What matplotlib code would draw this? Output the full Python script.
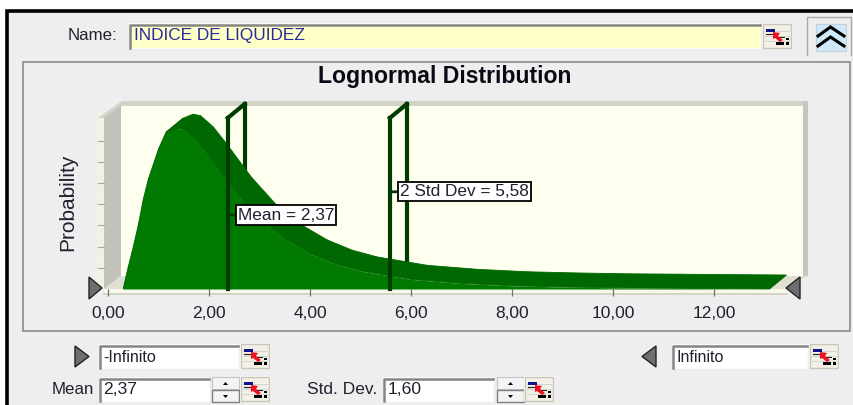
import matplotlib
matplotlib.use("Agg")
import matplotlib.pyplot as plt
from matplotlib.patches import Rectangle, Polygon
from matplotlib.transforms import Affine2D

plt.rcParams['font.family'] = ['Liberation Sans', 'DejaVu Sans']

# ---- data ----
x_values = [0.30, 0.40, 0.50, 0.60, 0.70, 0.80, 1.00, 1.15, 1.35, 1.50, 1.75, 2.00, 2.50,
            3.00, 3.50, 4.00, 4.50, 5.00, 6.00, 7.00, 8.00, 9.00, 10.00, 11.00, 12.00, 13.10]
probability = [0.000, 0.055, 0.105, 0.160, 0.225, 0.275, 0.350, 0.392, 0.402, 0.398, 0.370,
               0.330, 0.245, 0.175, 0.125, 0.088, 0.062, 0.045, 0.024, 0.014, 0.008, 0.005,
               0.003, 0.002, 0.001, 0.000]
x_ticks = [0, 2, 4, 6, 8, 10, 12]
x_tick_labels = ['0,00', '2,00', '4,00', '6,00', '8,00', '10,00', '12,00']
marker_x = [2.37, 5.58]
marker_y = [0.185, 0.243]
marker_labels = ['Mean = 2,37', '2 Std Dev = 5,58']
line_top = 0.4275
name_text = 'INDICE DE LIQUIDEZ'
title_text = 'Lognormal Distribution'

W, H = 854, 405
fig = plt.figure(figsize=(W / 100, H / 100), dpi=100, facecolor='white')

# ---- window furniture in pixel coordinates ----
ui = fig.add_axes([0, 0, 1, 1], zorder=1)
ui.set_xlim(0, W)
ui.set_ylim(H, 0)
ui.axis('off')


def rect(x0, y0, x1, y1, fc, ec='none', lw=0, z=1):
    ui.add_patch(Rectangle((x0, y0), x1 - x0, y1 - y0, fc=fc, ec=ec, lw=lw, zorder=z))


def poly(pts, fc, ec='none', lw=0, z=1):
    ui.add_patch(Polygon(pts, closed=True, fc=fc, ec=ec, lw=lw, zorder=z))


def field(x0, y0, x1, y1, fc='white'):
    rect(x0 - 1, y0 - 1, x1 + 1, y1 + 1, '#fafafa', z=2)
    rect(x0, y0, x1, y1, fc, z=2)
    ui.plot([x0 + .5, x0 + .5, x1], [y1, y0 + .5, y0 + .5], color='#858585', lw=1.8, zorder=3)


def icon(x0, y0):
    rect(x0 - 1, y0 - 1, x0 + 30, y0 + 25, '#fafafa', z=2)
    rect(x0, y0, x0 + 28, y0 + 24, '#f3f1e6', ec='#c8c6b8', lw=1, z=3)
    for k in (7, 12, 17):
        ui.plot([x0 + 2, x0 + 26], [y0 + k, y0 + k], color='#d4d4d4', lw=.7, zorder=4)
    rect(x0 + 3, y0 + 5, x0 + 12, y0 + 8, '#10108a', z=5)
    ui.plot([x0 + 3, x0 + 12, x0 + 12, x0 + 21], [y0 + 10, y0 + 10, y0 + 13, y0 + 13],
            color='#222222', lw=.8, zorder=5)
    poly([(x0 + 10, y0 + 8), (x0 + 17, y0 + 9), (x0 + 15, y0 + 12), (x0 + 20, y0 + 16),
          (x0 + 17, y0 + 18), (x0 + 12, y0 + 14), (x0 + 10, y0 + 15)], '#f01020', z=6)
    rect(x0 + 13, y0 + 18, x0 + 21, y0 + 21, 'black', z=6)
    rect(x0 + 23, y0 + 14, x0 + 26, y0 + 16, 'black', z=6)
    rect(x0 + 23, y0 + 18, x0 + 26, y0 + 21, 'black', z=6)


def spinner(x0, y0):
    rect(x0, y0, x0 + 27, y0 + 12, '#f4f4f4', ec='#c4c4c4', lw=.8, z=2)
    rect(x0, y0 + 13, x0 + 27, y0 + 25, '#f4f4f4', ec='#808080', lw=1, z=2)
    poly([(x0 + 11, y0 + 8), (x0 + 16, y0 + 8), (x0 + 13.5, y0 + 5)], 'black', z=3)
    poly([(x0 + 11, y0 + 18), (x0 + 16, y0 + 18), (x0 + 13.5, y0 + 21)], 'black', z=3)


TXT = '#202030'
rect(7, 11, W, H, '#eeeeee')
ui.plot([7, 7, W], [H, 11, 11], color='black', lw=2.6, zorder=2, solid_joinstyle='miter')
rect(23.5, 62, 850.5, 331, '#eeeeee', ec='#8b8b8b', lw=1.2, z=1)

# name row
ui.text(117, 36, 'Name:', ha='right', va='center', fontsize=12.2, color=TXT)
field(130, 24, 760, 48, '#ffffc8')
ui.text(134, 35.5, name_text, ha='left', va='center', fontsize=12.4, color='#2a2a9c', zorder=5)
icon(763, 24)

# chevron button
ui.plot([807, 807, 851, 851], [55, 17, 17, 55], color='#a8a8a8', lw=1, zorder=2)
rect(816, 24, 846, 51, '#cfe8fa', ec='#c4d0d8', lw=.8, z=2)
for dy in (0, 10):
    ui.plot([818, 830.5, 844], [36 + dy, 27 + dy, 36 + dy], color='black', lw=2.2, zorder=3,
            solid_joinstyle='miter')

# title
ui.text(445, 76, title_text, ha='center', va='center', fontsize=16.6, fontweight='bold',
        color='#0a0a14', zorder=5)

# 3D box of the chart
rect(121, 105, 803, 276, '#fffff0', z=2)                                       # back wall
poly([(98, 118), (122, 101), (808, 101), (808, 106), (122, 106), (104, 119)], '#d2d2c6', z=3)  # top rim
rect(803, 101, 808, 276, '#c6c6bc', z=3)                                       # right rim
poly([(104, 118), (121, 105), (121, 276), (104, 289)], '#c2c2ba', z=3)         # left wall
poly([(104, 289), (121, 276), (808, 276), (787, 289)], '#e0e0d2', z=3)         # floor
rect(98, 118, 104, 289, '#f2f2e4', z=3)                                        # scale strip
rect(104, 289, 787, 294, '#f8f8ea', z=3)
ui.plot([104, 787], [294, 294], color='#cfcfc0', lw=1.2, zorder=3)
for ty in (141, 162, 183, 204, 225, 247, 268):
    ui.plot([98, 104], [ty, ty], color='#a9a9a0', lw=.8, zorder=4)
ui.text(68, 202, 'Probability', rotation=90, ha='center', va='center', fontsize=15, color=TXT)

# bottom controls
poly([(75, 346), (89, 356.5), (75, 367)], '#6e6e6e', ec='#222222', lw=1)
field(100, 345, 238, 368)
ui.text(103, 357, '-Infinito', ha='left', va='center', fontsize=11.5, color=TXT, zorder=5)
icon(241, 344)
poly([(656, 346), (642, 356.5), (656, 367)], '#6e6e6e', ec='#222222', lw=1)
field(673, 345, 807, 368)
ui.text(677, 357, 'Infinito', ha='left', va='center', fontsize=11.5, color=TXT, zorder=5)
icon(810, 344)
ui.text(94, 390, 'Mean', ha='right', va='center', fontsize=12.2, color=TXT)
field(100, 378, 209, 401)
ui.text(103, 390, '2,37', ha='left', va='center', fontsize=12.6, color=TXT, zorder=5)
spinner(212, 377)
icon(241, 377)
ui.text(377, 390, 'Std. Dev.', ha='right', va='center', fontsize=12.5, color=TXT)
field(384, 378, 493, 401)
ui.text(388, 390, '1,60', ha='left', va='center', fontsize=12.6, color=TXT, zorder=5)
spinner(497, 377)
icon(525, 377)

# ---- data layer: 50.5 px per x unit, 400 px per unit of probability ----
PX_X, PX_Y = 50.5, 400
X0, Y0 = 108, 289
XMAX, YMAX = 13.5, 0.46
DX, DY = 17, 14
ax = fig.add_axes([X0 / W, (H - Y0) / H, XMAX * PX_X / W, YMAX * PX_Y / H], zorder=2)
ax.set_xlim(0, XMAX)
ax.set_ylim(0, YMAX)
ax.patch.set_alpha(0)
for s in ax.spines.values():
    s.set_visible(False)
ax.set_yticks([])
ax.set_xticks(x_ticks, x_tick_labels, fontsize=12.5, color=TXT)
ax.tick_params(axis='x', length=5, width=.9, color='#707070', pad=7)

DEPTH = Affine2D().translate(DX, DY)
back = ax.transData + DEPTH
FRONT_G, BACK_G, LINE_G = '#007a00', '#006800', '#003c00'

# rear posts stand behind the extruded ribbon
for mx in marker_x:
    ax.plot([mx, mx], [0, line_top], color=LINE_G, lw=3, transform=back, zorder=2, clip_on=False)

# extruded side of the curve: one dark quad per curve segment, front edge to rear edge
front_px = ax.transData.transform(list(zip(x_values, probability)))
for (x1, y1), (x2, y2) in zip(front_px[:-1], front_px[1:]):
    ax.add_patch(Polygon([(x1, y1), (x2, y2), (x2 + DX, y2 + DY), (x1 + DX, y1 + DY)],
                         closed=True, fc=BACK_G, ec=BACK_G, lw=.6, transform=None, zorder=3,
                         clip_on=False))
ax.fill_between(x_values, probability, 0, color=FRONT_G, lw=0, zorder=4)

for mx in marker_x:
    ax.plot([mx, mx], [0, line_top], color=LINE_G, lw=3, zorder=6, clip_on=False)
    # slanted top connecting the front post to the rear post
    tx, ty = ax.transData.transform((mx, line_top))
    ax.plot([tx, tx + DX], [ty, ty + DY], color=LINE_G, lw=3, transform=None, zorder=6,
            clip_on=False)

box = dict(boxstyle='square,pad=0.12', fc='white', ec='black', lw=1.3)
for mx, my, label in zip(marker_x, marker_y, marker_labels):
    ax.annotate(label, (mx, my), xytext=(10, 0), textcoords='offset pixels',
                ha='left', va='center', fontsize=12.4, color=TXT, bbox=box, zorder=7,
                arrowprops=dict(arrowstyle='-', color=LINE_G, lw=2, shrinkA=0, shrinkB=0))

# sliders on top of everything
top = fig.add_axes([0, 0, 1, 1], zorder=3)
top.set_xlim(0, W)
top.set_ylim(H, 0)
top.axis('off')
for tip, base in ((102, 89), (786, 800)):
    top.add_patch(Polygon([(base, 277), (tip, 288), (base, 299)], closed=True, fc='#6e6e6e',
                          ec='#222222', lw=1))

fig.savefig('out.png', dpi=100, facecolor='white')
